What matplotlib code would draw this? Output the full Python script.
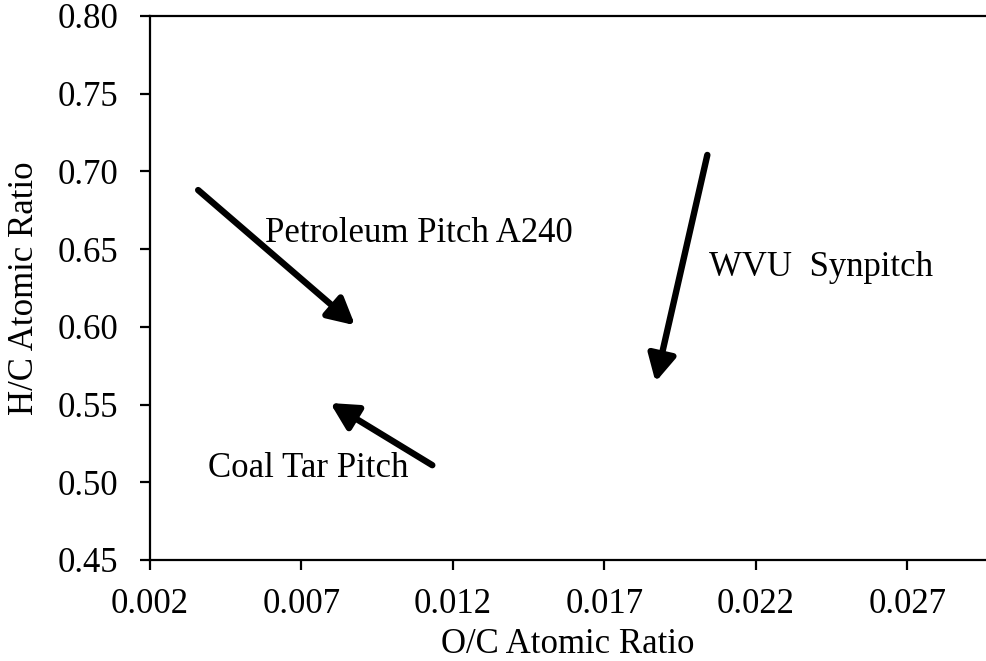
import matplotlib

matplotlib.use("Agg")
import matplotlib.pyplot as plt

plt.rcParams["font.family"] = ["Liberation Serif", "DejaVu Serif"]

# arrow start/end points (O/C, H/C) for each pitch
pitch_names = ["Petroleum Pitch A240", "Coal Tar Pitch", "WVU  Synpitch"]
oc_start = [0.00359, 0.01132, 0.0204]
hc_start = [0.688, 0.511, 0.7106]
oc_end = [0.00877, 0.00795, 0.01869]
hc_end = [0.601, 0.551, 0.5645]
label_oc = [0.0058, 0.00392, 0.02044]
label_hc = [0.660, 0.509, 0.6385]

x_ticks = [0.002, 0.007, 0.012, 0.017, 0.022, 0.027]
y_ticks = [0.45, 0.50, 0.55, 0.60, 0.65, 0.70, 0.75, 0.80]

FS = 25

fig = plt.figure(figsize=(9.86, 6.61), dpi=100)
ax = fig.add_axes([150 / 986, 101 / 661, 836 / 986, 544 / 661])

for i, name in enumerate(pitch_names):
    ax.annotate(
        "",
        xy=(oc_end[i], hc_end[i]),
        xytext=(oc_start[i], hc_start[i]),
        arrowprops=dict(
            arrowstyle="-|>,head_length=0.8,head_width=0.42",
            mutation_scale=20,
            lw=4.6,
            color="black",
            shrinkA=0,
            shrinkB=0,
        ),
    )
    ax.text(label_oc[i], label_hc[i], name, fontsize=FS, ha="left", va="center")

ax.set_xlim(0.002, 0.0296)
ax.set_ylim(0.45, 0.80)
ax.set_xticks(x_ticks)
ax.set_xticklabels([f"{v:.3f}" for v in x_ticks])
ax.set_yticks(y_ticks)
ax.set_yticklabels([f"{v:.2f}" for v in y_ticks])

ax.spines["right"].set_visible(False)
for side in ("left", "bottom", "top"):
    ax.spines[side].set_linewidth(1.6)
ax.tick_params(axis="both", direction="out", length=7, width=1.6, labelsize=FS)
ax.tick_params(axis="y", pad=16)
ax.tick_params(axis="x", pad=13)

ax.set_xlabel("O/C Atomic Ratio", fontsize=FS, labelpad=5)
ax.set_ylabel("H/C Atomic Ratio", fontsize=FS, labelpad=12)

fig.savefig("out.png", dpi=100)
